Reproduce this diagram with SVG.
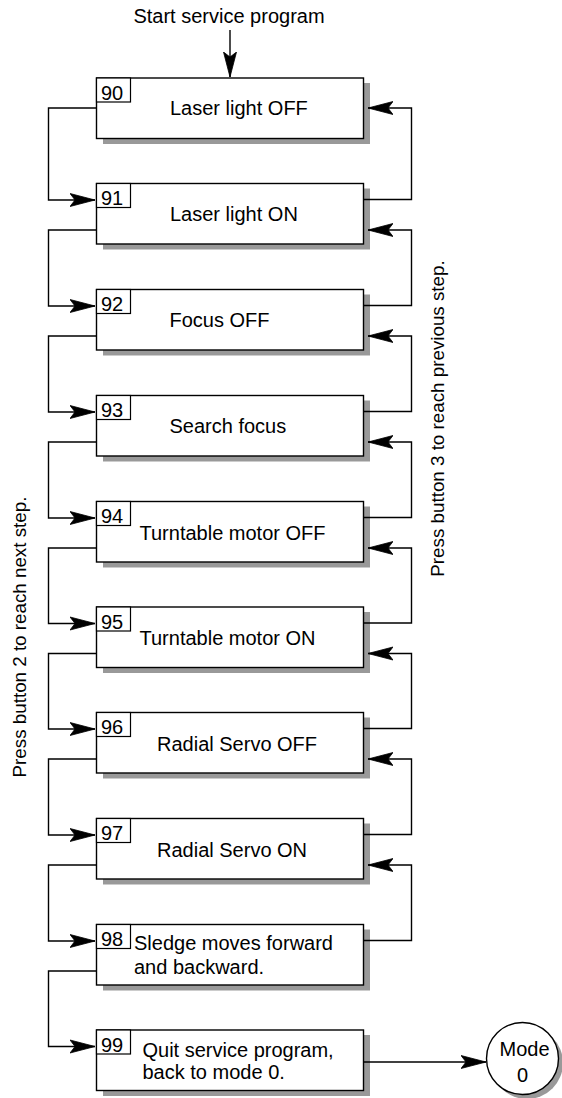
<svg xmlns="http://www.w3.org/2000/svg" width="562" height="1098" viewBox="0 0 562 1098">
<style>
text{font-family:"Liberation Sans",Arial,Helvetica,sans-serif;fill:#000}
.lbl{font-size:20px}
.num{font-size:20px}
.side{font-size:18.8px}
.cn{fill:none;stroke:#000;stroke-width:1.4;marker-end:url(#ah)}
.bx{fill:#fff;stroke:#000;stroke-width:1.4}
.nb{fill:#fff;stroke:#000;stroke-width:1.2}
.sd{fill:#999999;stroke:none}
</style>
<defs>
<marker id="ah" markerUnits="userSpaceOnUse" markerWidth="26" markerHeight="16" viewBox="-25 -8 26 16" refX="0" refY="0" orient="auto"><path d="M0,0 L-25,-6.5 L-20,0 L-25,6.5 Z" fill="#000" stroke="#000" stroke-width="0.8"/></marker>
</defs>
<rect width="562" height="1098" fill="#fff"/>
<text class="lbl" x="229" y="23" text-anchor="middle">Start service program</text>
<text class="side" transform="translate(26,637) rotate(-90)" text-anchor="middle">Press button 2 to reach next step.</text>
<text class="side" transform="translate(444,418.5) rotate(-90)" text-anchor="middle">Press button 3 to reach previous step.</text>
<g id="shadows">
<rect class="sd" x="103" y="83" width="267" height="61"/>
<rect class="sd" x="103" y="188.5" width="267" height="61"/>
<rect class="sd" x="103" y="294.5" width="267" height="61"/>
<rect class="sd" x="103" y="400.5" width="267" height="61"/>
<rect class="sd" x="103" y="506.5" width="267" height="61"/>
<rect class="sd" x="103" y="612" width="267" height="61"/>
<rect class="sd" x="103" y="717.5" width="267" height="61"/>
<rect class="sd" x="103" y="823.5" width="267" height="61"/>
<rect class="sd" x="103" y="929.5" width="267" height="61"/>
<rect class="sd" x="103" y="1035" width="267" height="61"/>
<circle class="sd" cx="527" cy="1063" r="36"/>
</g>
<g id="n90"><rect class="bx" x="96.5" y="78" width="267" height="60.5"/><rect class="nb" x="96.5" y="78" width="34" height="24"/><text class="num" x="101" y="99.5">90</text><text class="lbl" x="170" y="115">Laser light OFF</text></g>
<g id="n91"><rect class="bx" x="96.5" y="183.5" width="267" height="60.5"/><rect class="nb" x="96.5" y="183.5" width="34" height="24"/><text class="num" x="101" y="205">91</text><text class="lbl" x="170" y="220.5">Laser light ON</text></g>
<g id="n92"><rect class="bx" x="96.5" y="289.5" width="267" height="60.5"/><rect class="nb" x="96.5" y="289.5" width="34" height="24"/><text class="num" x="101" y="311">92</text><text class="lbl" x="169.5" y="326.5">Focus OFF</text></g>
<g id="n93"><rect class="bx" x="96.5" y="395.5" width="267" height="60.5"/><rect class="nb" x="96.5" y="395.5" width="34" height="24"/><text class="num" x="101" y="417">93</text><text class="lbl" x="169.5" y="432.5">Search focus</text></g>
<g id="n94"><rect class="bx" x="96.5" y="501.5" width="267" height="60.5"/><rect class="nb" x="96.5" y="501.5" width="34" height="24"/><text class="num" x="101" y="523">94</text><text class="lbl" x="139.5" y="539.5">Turntable motor OFF</text></g>
<g id="n95"><rect class="bx" x="96.5" y="607" width="267" height="60.5"/><rect class="nb" x="96.5" y="607" width="34" height="24"/><text class="num" x="101" y="628.5">95</text><text class="lbl" x="139.5" y="645">Turntable motor ON</text></g>
<g id="n96"><rect class="bx" x="96.5" y="712.5" width="267" height="60.5"/><rect class="nb" x="96.5" y="712.5" width="34" height="24"/><text class="num" x="101" y="734">96</text><text class="lbl" x="157" y="751">Radial Servo OFF</text></g>
<g id="n97"><rect class="bx" x="96.5" y="818.5" width="267" height="60.5"/><rect class="nb" x="96.5" y="818.5" width="34" height="24"/><text class="num" x="101" y="840">97</text><text class="lbl" x="157" y="857">Radial Servo ON</text></g>
<g id="n98"><rect class="bx" x="96.5" y="924.5" width="267" height="60.5"/><rect class="nb" x="96.5" y="924.5" width="34" height="24"/><text class="num" x="101" y="946">98</text><text class="lbl" x="134" y="950">Sledge moves forward</text><text class="lbl" x="134" y="973.5">and backward.</text></g>
<g id="n99"><rect class="bx" x="96.5" y="1030" width="267" height="60.5"/><rect class="nb" x="96.5" y="1030" width="34" height="24"/><text class="num" x="101" y="1051.5">99</text><text class="lbl" x="142.5" y="1056.5">Quit service program,</text><text class="lbl" x="142.5" y="1078.5">back to mode 0.</text></g>
<g id="mode0"><circle class="bx" cx="522.5" cy="1058.5" r="36"/><text class="lbl" x="524.5" y="1055.5" text-anchor="middle">Mode</text><text class="lbl" x="522.5" y="1081.5" text-anchor="middle">0</text></g>
<g id="connectors">
<path class="cn" d="M230,30 V77"/>
<path class="cn" d="M96.5,108 H48.5 V200 H95"/>
<path class="cn" d="M96.5,230 H48.5 V306 H95"/>
<path class="cn" d="M96.5,336 H48.5 V412 H95"/>
<path class="cn" d="M96.5,442 H48.5 V518 H95"/>
<path class="cn" d="M96.5,548 H48.5 V623.5 H95"/>
<path class="cn" d="M96.5,653.5 H48.5 V729 H95"/>
<path class="cn" d="M96.5,759 H48.5 V835 H95"/>
<path class="cn" d="M96.5,865 H48.5 V941 H95"/>
<path class="cn" d="M96.5,971 H48.5 V1046.5 H95"/>
<path class="cn" d="M363.5,199.5 H411.5 V108 H368"/>
<path class="cn" d="M363.5,305.5 H411.5 V230 H368"/>
<path class="cn" d="M363.5,411.5 H411.5 V336 H368"/>
<path class="cn" d="M363.5,517.5 H411.5 V442 H368"/>
<path class="cn" d="M363.5,623 H411.5 V548 H368"/>
<path class="cn" d="M363.5,728.5 H411.5 V653.5 H368"/>
<path class="cn" d="M363.5,834.5 H411.5 V759 H368"/>
<path class="cn" d="M363.5,940.5 H411.5 V865 H368"/>
<path class="cn" d="M363.5,1062 H486"/>
</g>
</svg>
